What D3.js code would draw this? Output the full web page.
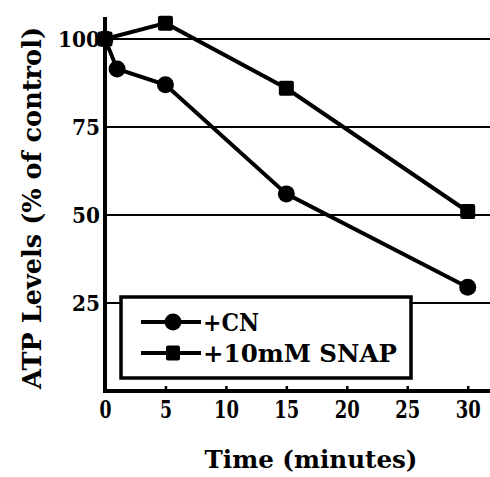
<!DOCTYPE html>
<html>
<head>
<meta charset="utf-8">
<script src="https://cdn.jsdelivr.net/npm/d3@7"></script>
<style>
  body { margin: 0; background: #fff; }
  svg { display: block; }
</style>
</head>
<body>
<div id="chart"></div>
<script>
// data
var cnTime   = [0, 1, 5, 15, 30];
var cnAtp    = [100, 91.5, 87, 56, 29.5];
var snapTime = [0, 5, 15, 30];
var snapAtp  = [100, 104.5, 86, 51];
var xTicks = [0, 5, 10, 15, 20, 25, 30];
var yTicks = [25, 50, 75, 100];
var legendNames = ["+CN", "+10mM SNAP"];

var serif = "'DejaVu Serif', serif";
var width = 490, height = 477;
var svg = d3.select("#chart").append("svg")
    .attr("width", width)
    .attr("height", height)
    .style("font-family", serif)
    .style("font-weight", "bold");

var x = d3.scaleLinear().domain([0, 30]).range([105, 467.7]);
var y = d3.scaleLinear().domain([0, 100]).range([391, 39]);

// gridlines
svg.selectAll(".grid").data(yTicks).enter().append("line")
    .attr("x1", x(0)).attr("x2", width)
    .attr("y1", function(d){ return y(d); })
    .attr("y2", function(d){ return y(d); })
    .attr("stroke", "#000").attr("stroke-width", 2);

// y axis labels
var yAxis = svg.append("g")
    .attr("transform", "translate(" + (x(0) - 3) + ",0)")
    .call(d3.axisLeft(y).tickValues(yTicks).tickSize(0).tickPadding(2));
yAxis.attr("font-family", null).attr("font-size", null);
yAxis.select(".domain").remove();
yAxis.selectAll("text")
    .style("font-size", "22px")
    .attr("textLength", function(d){ return d >= 100 ? 42 : 28; })
    .attr("lengthAdjust", "spacingAndGlyphs")
    .attr("dy", "0.36em");

// x axis labels + small inner ticks
var xAxis = svg.append("g")
    .attr("transform", "translate(0," + y(0) + ")")
    .call(d3.axisBottom(x).tickValues(xTicks).tickSizeInner(-5).tickSizeOuter(0).tickPadding(10));
xAxis.attr("font-family", null).attr("font-size", null);
xAxis.select(".domain").remove();
xAxis.selectAll("line").attr("stroke-width", 2.5);
xAxis.selectAll("text")
    .style("font-size", "24px")
    .attr("textLength", function(d){ return d >= 10 ? 25 : 12; })
    .attr("lengthAdjust", "spacingAndGlyphs")
    .attr("dy", "0.71em");

// axis lines
svg.append("line")
    .attr("x1", x(0)).attr("x2", x(0))
    .attr("y1", 17).attr("y2", y(0) + 2)
    .attr("stroke", "#000").attr("stroke-width", 4);
svg.append("line")
    .attr("x1", x(0) - 2).attr("x2", width)
    .attr("y1", y(0)).attr("y2", y(0))
    .attr("stroke", "#000").attr("stroke-width", 4);

// titles
svg.append("text")
    .attr("transform", "translate(41,208) rotate(-90)")
    .attr("text-anchor", "middle")
    .style("font-size", "26px")
    .attr("textLength", 362)
    .attr("lengthAdjust", "spacingAndGlyphs")
    .text("ATP Levels (% of control)");
svg.append("text")
    .attr("x", 311).attr("y", 468)
    .attr("text-anchor", "middle")
    .style("font-size", "25px")
    .attr("textLength", 213)
    .attr("lengthAdjust", "spacingAndGlyphs")
    .text("Time (minutes)");

var line = d3.line()
    .x(function(d){ return x(d[0]); })
    .y(function(d){ return y(d[1]); });

var cnData = d3.zip(cnTime, cnAtp);
var snapData = d3.zip(snapTime, snapAtp);

svg.append("path").datum(snapData)
    .attr("d", line).attr("fill", "none")
    .attr("stroke", "#000").attr("stroke-width", 4);
svg.append("path").datum(cnData)
    .attr("d", line).attr("fill", "none")
    .attr("stroke", "#000").attr("stroke-width", 4);

svg.selectAll(".sq").data(snapData).enter().append("rect")
    .attr("x", function(d){ return x(d[0]) - 7.5; })
    .attr("y", function(d){ return y(d[1]) - 7.5; })
    .attr("width", 15).attr("height", 15)
    .attr("rx", 2)
    .attr("fill", "#000");
svg.selectAll(".dot").data(cnData).enter().append("circle")
    .attr("cx", function(d){ return x(d[0]); })
    .attr("cy", function(d){ return y(d[1]); })
    .attr("r", 8.5)
    .attr("fill", "#000");

// legend
var lg = svg.append("g");
lg.append("rect")
    .attr("x", 121).attr("y", 297)
    .attr("width", 290).attr("height", 81)
    .attr("fill", "#fff")
    .attr("stroke", "#000").attr("stroke-width", 3.5);

var rows = [322, 353];
legendNames.forEach(function(name, i){
    lg.append("line")
        .attr("x1", 141).attr("x2", 201)
        .attr("y1", rows[i]).attr("y2", rows[i])
        .attr("stroke", "#000").attr("stroke-width", 4);
    if (i == 0) {
        lg.append("circle").attr("cx", 173).attr("cy", rows[i]).attr("r", 8.5).attr("fill", "#000");
    } else {
        lg.append("rect").attr("x", 166).attr("y", rows[i] - 7.5)
            .attr("width", 14).attr("height", 15).attr("rx", 2).attr("fill", "#000");
    }
    lg.append("text")
        .attr("x", 203).attr("y", rows[i] + 9)
        .style("font-size", "25px")
        .attr("textLength", i == 0 ? 56 : 194)
        .attr("lengthAdjust", "spacingAndGlyphs")
        .text(name);
});
</script>
</body>
</html>
